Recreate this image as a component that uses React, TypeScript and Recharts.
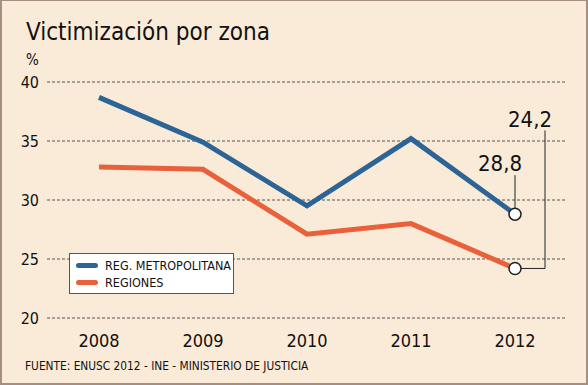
import { CartesianGrid, LabelList, Line, LineChart, XAxis, YAxis } from 'recharts';

const years = [2008, 2009, 2010, 2011, 2012];
const metropolitana = [38.7, 34.9, 29.5, 35.2, 28.8];
const regiones = [32.8, 32.6, 27.1, 28.0, 24.2];
const yTicks = [20, 25, 30, 35, 40];
const seriesNames = ['REG. METROPOLITANA', 'REGIONES'];

const data = years.map((year, i) => ({ year, metro: metropolitana[i], reg: regiones[i] }));
const last = years.length - 1;

const FONT = '"DejaVu Sans Condensed", "DejaVu Sans", sans-serif';
const BLUE = '#2c6496';
const ORANGE = '#e9603b';
const BG = '#faebd8';

const fmt = (v: number) => v.toFixed(1).replace('.', ',');

function EndDot(props: any) {
  const { cx, cy, index } = props;
  if (index !== last) return <g key={`d${index}`} />;
  return <circle key={`d${index}`} cx={cx} cy={cy} r={6} fill="#fff" stroke="#222" strokeWidth={1.5} />;
}

function MetroCallout(props: any) {
  const { x, y, value, index } = props;
  if (index !== last) return null;
  return (
    <g>
      <line x1={x} x2={x} y1={y - 39} y2={y - 6} stroke="#222" strokeWidth={1} />
      <text x={x - 15} y={y - 43} textAnchor="middle" fontSize={22} fill="#111" fontFamily={FONT}>
        {fmt(value)}
      </text>
    </g>
  );
}

function RegCallout(props: any) {
  const { x, y, value, index } = props;
  if (index !== last) return null;
  return (
    <g>
      <polyline
        points={`${x + 6},${y} ${x + 30},${y} ${x + 30},${y - 138}`}
        fill="none"
        stroke="#222"
        strokeWidth={1}
      />
      <text x={x + 15} y={y - 141} textAnchor="middle" fontSize={22} fill="#111" fontFamily={FONT}>
        {fmt(value)}
      </text>
    </g>
  );
}

function YearTick(props: any) {
  const { x, y, payload } = props;
  return (
    <text x={x} y={y + 27} textAnchor="middle" fontSize={18} fill="#111" fontFamily={FONT}>
      {payload.value}
    </text>
  );
}

function LegendBox() {
  const colors = [BLUE, ORANGE];
  return (
    <div
      style={{
        position: 'absolute',
        left: 67,
        top: 252,
        width: 165,
        height: 41,
        boxSizing: 'border-box',
        background: '#fff',
        border: '1px solid #555',
        padding: '3px 0 0 6px',
        fontSize: 12.5,
        color: '#111',
        whiteSpace: 'nowrap',
      }}
    >
      {seriesNames.map((name, i) => (
        <div key={name} style={{ display: 'flex', alignItems: 'center', height: 17 }}>
          <span
            style={{ width: 22, height: 5, borderRadius: 3, background: colors[i], marginRight: 7 }}
          />
          <span>{name}</span>
        </div>
      ))}
    </div>
  );
}

export default function App() {
  return (
    <div
      style={{
        position: 'fixed',
        top: 0,
        left: 0,
        width: 588,
        height: 385,
        background: BG,
        border: '2px solid #a68e80',
        borderTopWidth: 1,
        boxSizing: 'border-box',
        fontFamily: FONT,
      }}
    >
      <div style={{ position: 'absolute', left: 24, top: 17, fontSize: 24, color: '#111' }}>
        Victimización por zona
      </div>
      <div style={{ position: 'absolute', left: 24, top: 50, fontSize: 15, color: '#111' }}>%</div>
      <div style={{ position: 'absolute', left: 23, top: 358, fontSize: 11.8, color: '#111' }}>
        FUENTE: ENUSC 2012 - INE - MINISTERIO DE JUSTICIA
      </div>
      <div style={{ position: 'absolute', left: -2, top: -1 }}>
        <LineChart width={588} height={385} data={data} margin={{ top: 82, right: 21, bottom: 37, left: 7 }}>
          <CartesianGrid vertical={false} stroke="#555" strokeDasharray="3 2" />
          <XAxis
            dataKey="year"
            type="number"
            domain={[2007.5, 2012.5]}
            ticks={years}
            axisLine={false}
            tickLine={false}
            tickSize={0}
            height={30}
            tick={<YearTick />}
          />
          <YAxis
            domain={[20, 40]}
            ticks={yTicks}
            width={40}
            axisLine={false}
            tickLine={false}
            tickSize={0}
            tickMargin={8}
            tick={{ fontSize: 16, fill: '#111', fontFamily: FONT }}
          />
          <Line
            dataKey="metro"
            stroke={BLUE}
            strokeWidth={5}
            dot={EndDot}
            activeDot={false}
            isAnimationActive={false}
          >
            <LabelList dataKey="metro" content={<MetroCallout />} />
          </Line>
          <Line
            dataKey="reg"
            stroke={ORANGE}
            strokeWidth={5}
            dot={EndDot}
            activeDot={false}
            isAnimationActive={false}
          >
            <LabelList dataKey="reg" content={<RegCallout />} />
          </Line>
        </LineChart>
      </div>
      <LegendBox />
    </div>
  );
}
